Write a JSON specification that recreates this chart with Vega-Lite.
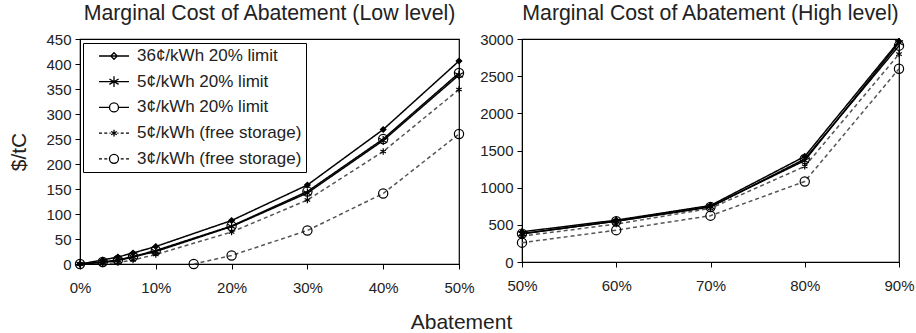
{
  "$schema": "https://vega.github.io/schema/vega-lite/v6.json",
  "padding": {"left": 8, "top": 2, "right": 2, "bottom": 4},
  "title": {"text": "Abatement", "orient": "bottom", "anchor": "middle", "fontSize": 21, "fontWeight": "normal", "color": "#222", "offset": 16},
  "config": {
    "font": "Liberation Sans",
    "view": {"stroke": "black", "strokeWidth": 1.2},
    "axis": {"grid": false, "domainColor": "black", "tickColor": "black", "labelFontSize": 15, "labelColor": "#222", "tickSize": 5, "titleFontWeight": "normal", "titleFontSize": 21, "titleColor": "#222", "labelFlush": false, "labelOverlap": false},
    "axisX": {"labelPadding": 11},
    "axisY": {"labelPadding": 4},
    "title": {"fontSize": 21.3, "fontWeight": "normal", "color": "#222", "offset": 8},
    "concat": {"spacing": 4}
  },
  "datasets": {
    "low": [
      {"series": "36¢/kWh 20% limit", "x": 0, "y": 0},
      {"series": "36¢/kWh 20% limit", "x": 3, "y": 8},
      {"series": "36¢/kWh 20% limit", "x": 5, "y": 14},
      {"series": "36¢/kWh 20% limit", "x": 7, "y": 22},
      {"series": "36¢/kWh 20% limit", "x": 10, "y": 35},
      {"series": "36¢/kWh 20% limit", "x": 20, "y": 87},
      {"series": "36¢/kWh 20% limit", "x": 30, "y": 158},
      {"series": "36¢/kWh 20% limit", "x": 40, "y": 269},
      {"series": "36¢/kWh 20% limit", "x": 50, "y": 406},
      {"series": "5¢/kWh 20% limit", "x": 0, "y": 0},
      {"series": "5¢/kWh 20% limit", "x": 3, "y": 3},
      {"series": "5¢/kWh 20% limit", "x": 5, "y": 7},
      {"series": "5¢/kWh 20% limit", "x": 7, "y": 14},
      {"series": "5¢/kWh 20% limit", "x": 10, "y": 25},
      {"series": "5¢/kWh 20% limit", "x": 20, "y": 75},
      {"series": "5¢/kWh 20% limit", "x": 30, "y": 142},
      {"series": "5¢/kWh 20% limit", "x": 40, "y": 247},
      {"series": "5¢/kWh 20% limit", "x": 50, "y": 378},
      {"series": "3¢/kWh 20% limit", "x": 0, "y": 0},
      {"series": "3¢/kWh 20% limit", "x": 3, "y": 4},
      {"series": "3¢/kWh 20% limit", "x": 5, "y": 8},
      {"series": "3¢/kWh 20% limit", "x": 7, "y": 15},
      {"series": "3¢/kWh 20% limit", "x": 10, "y": 27},
      {"series": "3¢/kWh 20% limit", "x": 20, "y": 76},
      {"series": "3¢/kWh 20% limit", "x": 30, "y": 145},
      {"series": "3¢/kWh 20% limit", "x": 40, "y": 250},
      {"series": "3¢/kWh 20% limit", "x": 50, "y": 382},
      {"series": "5¢/kWh (free storage)", "x": 3, "y": 0},
      {"series": "5¢/kWh (free storage)", "x": 5, "y": 3},
      {"series": "5¢/kWh (free storage)", "x": 7, "y": 8},
      {"series": "5¢/kWh (free storage)", "x": 10, "y": 19},
      {"series": "5¢/kWh (free storage)", "x": 20, "y": 64},
      {"series": "5¢/kWh (free storage)", "x": 30, "y": 128},
      {"series": "5¢/kWh (free storage)", "x": 40, "y": 225},
      {"series": "5¢/kWh (free storage)", "x": 50, "y": 349},
      {"series": "3¢/kWh (free storage)", "x": 15, "y": 0},
      {"series": "3¢/kWh (free storage)", "x": 20, "y": 17},
      {"series": "3¢/kWh (free storage)", "x": 30, "y": 67},
      {"series": "3¢/kWh (free storage)", "x": 40, "y": 141},
      {"series": "3¢/kWh (free storage)", "x": 50, "y": 260}
    ],
    "high": [
      {"series": "36¢/kWh 20% limit", "x": 50, "y": 406},
      {"series": "36¢/kWh 20% limit", "x": 60, "y": 563},
      {"series": "36¢/kWh 20% limit", "x": 70, "y": 760},
      {"series": "36¢/kWh 20% limit", "x": 80, "y": 1420},
      {"series": "36¢/kWh 20% limit", "x": 90, "y": 2970},
      {"series": "5¢/kWh 20% limit", "x": 50, "y": 378},
      {"series": "5¢/kWh 20% limit", "x": 60, "y": 550},
      {"series": "5¢/kWh 20% limit", "x": 70, "y": 745},
      {"series": "5¢/kWh 20% limit", "x": 80, "y": 1365},
      {"series": "5¢/kWh 20% limit", "x": 90, "y": 2950},
      {"series": "3¢/kWh 20% limit", "x": 50, "y": 382},
      {"series": "3¢/kWh 20% limit", "x": 60, "y": 548},
      {"series": "3¢/kWh 20% limit", "x": 70, "y": 740},
      {"series": "3¢/kWh 20% limit", "x": 80, "y": 1385},
      {"series": "3¢/kWh 20% limit", "x": 90, "y": 2910},
      {"series": "5¢/kWh (free storage)", "x": 50, "y": 349},
      {"series": "5¢/kWh (free storage)", "x": 60, "y": 510},
      {"series": "5¢/kWh (free storage)", "x": 70, "y": 722},
      {"series": "5¢/kWh (free storage)", "x": 80, "y": 1286},
      {"series": "5¢/kWh (free storage)", "x": 90, "y": 2797},
      {"series": "3¢/kWh (free storage)", "x": 50, "y": 260},
      {"series": "3¢/kWh (free storage)", "x": 60, "y": 428},
      {"series": "3¢/kWh (free storage)", "x": 70, "y": 623},
      {"series": "3¢/kWh (free storage)", "x": 80, "y": 1083},
      {"series": "3¢/kWh (free storage)", "x": 90, "y": 2600}
    ]
  },
  "hconcat": [
    {
      "width": 379,
      "height": 225,
      "title": {"text": "Marginal Cost of Abatement (Low level)"},
      "data": {"name": "low"},
      "encoding": {
        "x": {"field": "x", "type": "quantitative", "scale": {"domain": [0, 50]}, "axis": {"values": [0, 10, 20, 30, 40, 50], "labelExpr": "datum.value + '%'", "title": null}},
        "y": {"field": "y", "type": "quantitative", "scale": {"domain": [0, 450]}, "axis": {"values": [0, 50, 100, 150, 200, 250, 300, 350, 400, 450], "format": "d", "title": "$/tC", "titlePadding": 16}}
      },
      "layer": [
        {
          "mark": {"type": "line", "strokeWidth": 1.5},
          "encoding": {
            "detail": {"field": "series"},
            "stroke": {"condition": {"test": "indexof(datum.series, 'free') >= 0", "value": "#555"}, "value": "black"},
            "strokeDash": {"condition": {"test": "indexof(datum.series, 'free') >= 0", "value": [4, 3]}, "value": [1, 0]}
          }
        },
        {
          "mark": {"type": "point", "filled": true, "stroke": "black", "strokeWidth": 1.2, "opacity": 1},
          "encoding": {
            "shape": {"condition": [{"test": "datum.series === '36¢/kWh 20% limit'", "value": "diamond"}, {"test": "indexof(datum.series, '3¢/kWh') === 0", "value": "circle"}], "value": "M0,-1L0,1M-0.87,-0.5L0.87,0.5M-0.87,0.5L0.87,-0.5"},
            "fill": {"condition": {"test": "datum.series === '36¢/kWh 20% limit'", "value": "black"}, "value": "transparent"},
            "size": {"condition": [{"test": "datum.series === '36¢/kWh 20% limit'", "value": 30}, {"test": "datum.series === '5¢/kWh (free storage)'", "value": 40}], "value": 85}
          }
        },
        {
          "mark": {"type": "point", "filled": false, "stroke": "black", "opacity": 0},
          "encoding": {
            "shape": {
              "field": "series",
              "scale": {
                "domain": ["36¢/kWh 20% limit", "5¢/kWh 20% limit", "3¢/kWh 20% limit", "5¢/kWh (free storage)", "3¢/kWh (free storage)"],
                "range": [
                  "M-1,0L1,0M0,-0.22L0.22,0L0,0.22L-0.22,0Z",
                  "M-1,0L1,0M0,-0.36L0,0.36M-0.31,-0.18L0.31,0.18M-0.31,0.18L0.31,-0.18",
                  "M-1,0L-0.3,0M0.3,0L1,0M-0.3,0A0.3,0.3 0 1,0 0.3,0A0.3,0.3 0 1,0 -0.3,0",
                  "M-1,0L-0.8,0M-0.65,0L-0.45,0M-0.3,0L-0.22,0M0.22,0L0.3,0M0.45,0L0.65,0M0.8,0L1,0M0,-0.22L0,0.22M-0.19,-0.11L0.19,0.11M-0.19,0.11L0.19,-0.11",
                  "M-1,0L-0.8,0M-0.65,0L-0.45,0M0.45,0L0.65,0M0.8,0L1,0M-0.3,0A0.3,0.3 0 1,0 0.3,0A0.3,0.3 0 1,0 -0.3,0"
                ]
              },
              "legend": {
                "orient": "none", "legendX": 3, "legendY": 4, "title": null,
                "fillColor": "white", "strokeColor": "black", "padding": 4,
                "symbolSize": 900, "symbolOffset": 11, "labelFontSize": 17, "labelOffset": 7, "labelLimit": 280,
                "labelExpr": "datum.label + '\u00a0\u00a0\u00a0'",
                "clipHeight": 18, "rowPadding": 7.7, "symbolStrokeWidth": 1.3, "symbolOpacity": 1, "labelColor": "#222",
                "symbolStrokeColor": "black",
                "encode": {
                  "symbols": {
                    "fill": {"condition": {"test": "datum.value === '36¢/kWh 20% limit'", "value": "black"}, "value": "transparent"},
                    "stroke": {"value": "black"},
                    "strokeWidth": {"value": 1.3},
                    "opacity": {"value": 1}
                  }
                }
              }
            }
          }
        }
      ]
    },
    {
      "width": 377,
      "height": 223,
      "title": {"text": "Marginal Cost of Abatement (High level)"},
      "data": {"name": "high"},
      "encoding": {
        "x": {"field": "x", "type": "quantitative", "scale": {"domain": [50, 90]}, "axis": {"values": [50, 60, 70, 80, 90], "labelExpr": "datum.value + '%'", "title": null}},
        "y": {"field": "y", "type": "quantitative", "scale": {"domain": [0, 3000]}, "axis": {"values": [0, 500, 1000, 1500, 2000, 2500, 3000], "format": "d", "title": null}}
      },
      "layer": [
        {
          "mark": {"type": "line", "strokeWidth": 1.5},
          "encoding": {
            "detail": {"field": "series"},
            "stroke": {"condition": {"test": "indexof(datum.series, 'free') >= 0", "value": "#555"}, "value": "black"},
            "strokeDash": {"condition": {"test": "indexof(datum.series, 'free') >= 0", "value": [4, 3]}, "value": [1, 0]}
          }
        },
        {
          "mark": {"type": "point", "filled": true, "stroke": "black", "strokeWidth": 1.2, "opacity": 1},
          "encoding": {
            "shape": {"condition": [{"test": "datum.series === '36¢/kWh 20% limit'", "value": "diamond"}, {"test": "indexof(datum.series, '3¢/kWh') === 0", "value": "circle"}], "value": "M0,-1L0,1M-0.87,-0.5L0.87,0.5M-0.87,0.5L0.87,-0.5"},
            "fill": {"condition": {"test": "datum.series === '36¢/kWh 20% limit'", "value": "black"}, "value": "transparent"},
            "size": {"condition": [{"test": "datum.series === '36¢/kWh 20% limit'", "value": 30}, {"test": "datum.series === '5¢/kWh (free storage)'", "value": 40}], "value": 85}
          }
        }
      ]
    }
  ]
}
